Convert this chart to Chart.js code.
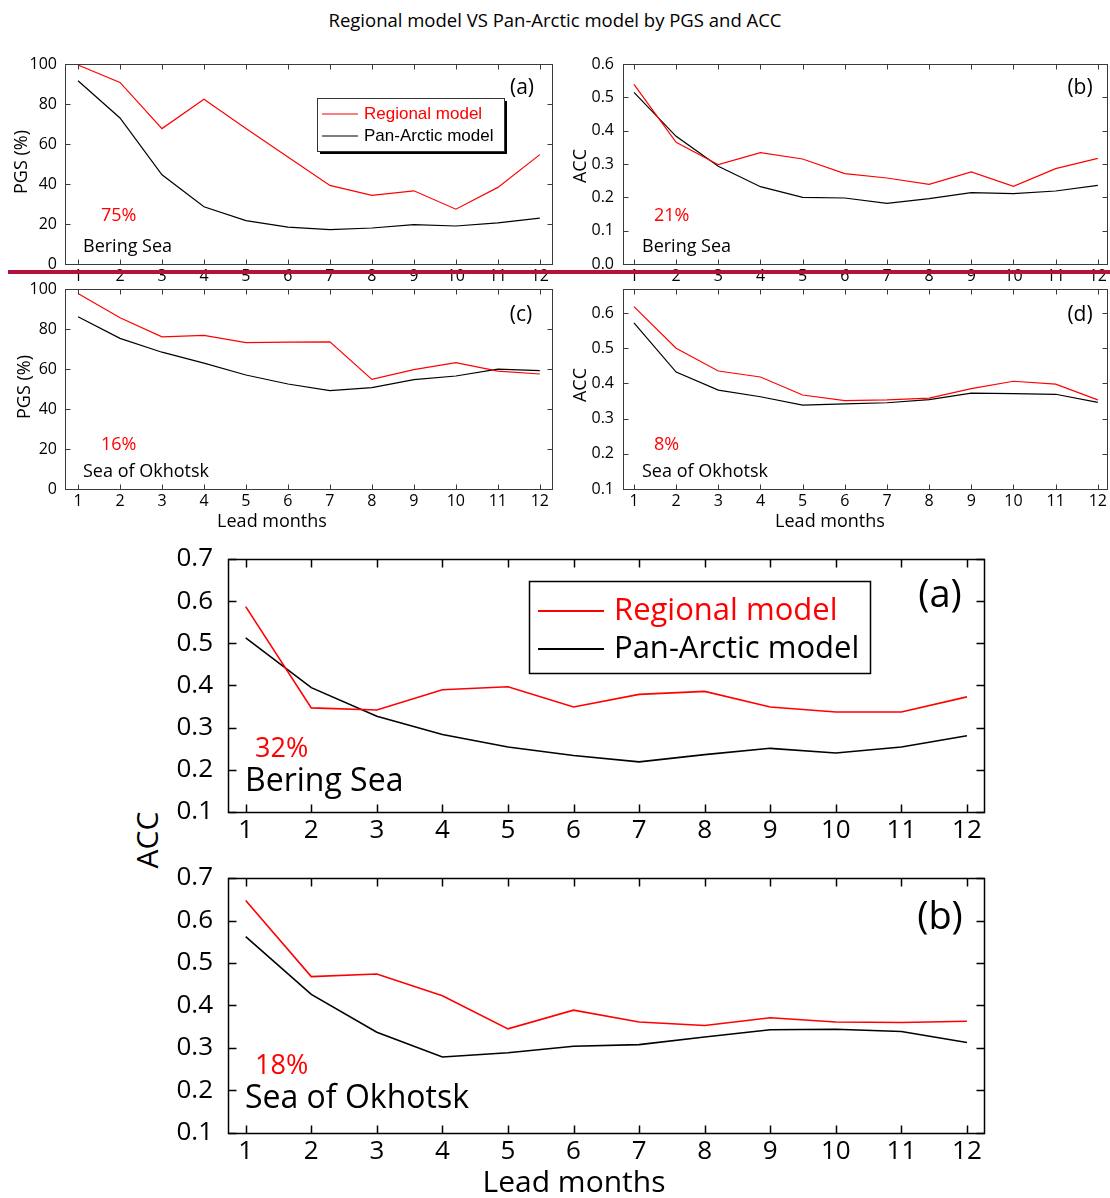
<!DOCTYPE html>
<html>
<head>
<meta charset="utf-8">
<script src="https://cdn.jsdelivr.net/npm/chart.js@4.4.1/dist/chart.umd.min.js"></script>
<style>
    body { margin: 0; background: #fff; }
    #figura { position: relative; width: 1110px; height: 1198px; overflow: hidden; background: #fff; }
    #figura canvas { position: absolute; }
    .texto-livre { position: absolute; white-space: nowrap; color: #000; font-family: 'Open Sans', sans-serif; transform: translate(-50%, -50%); }
    #separador { position: absolute; left: 8px; top: 270px; width: 1102px; height: 4px; background: #b3123c; z-index: 5; }
</style>
</head>
<body>
<div id="figura">
    <div class="texto-livre" style="left:555px; top:19px; font-size:18.5px;">Regional model VS Pan-Arctic model by PGS and ACC</div>
    <div class="texto-livre" style="left:146px; top:840px; font-size:30px; transform: translate(-50%, -50%) rotate(-90deg);">ACC</div>
    <div id="separador"></div>
</div>
<script>
const mesesAntecedencia = [1, 2, 3, 4, 5, 6, 7, 8, 9, 10, 11, 12];

const pgsBeringRegional = [99.5, 90.8, 67.7, 82.4, 67.8, 53.5, 39.3, 34.3, 36.6, 27.4, 38.3, 54.7];
const pgsBeringPan = [91.6, 73.0, 44.6, 28.6, 21.7, 18.4, 17.2, 18.0, 19.7, 19.0, 20.6, 22.9];
const accBeringRegional = [0.539, 0.365, 0.298, 0.334, 0.315, 0.271, 0.258, 0.239, 0.276, 0.233, 0.286, 0.317];
const accBeringPan = [0.515, 0.383, 0.293, 0.232, 0.200, 0.198, 0.182, 0.196, 0.214, 0.211, 0.219, 0.236];
const pgsOkhotskRegional = [97.8, 85.6, 76.1, 76.8, 73.2, 73.4, 73.6, 54.8, 59.7, 63.2, 58.9, 57.5];
const pgsOkhotskPan = [86.1, 75.3, 68.4, 62.9, 57.0, 52.5, 49.2, 50.7, 54.7, 56.5, 59.9, 59.2];
const accOkhotskRegional = [0.618, 0.500, 0.435, 0.418, 0.367, 0.351, 0.353, 0.358, 0.385, 0.406, 0.398, 0.353];
const accOkhotskPan = [0.572, 0.432, 0.381, 0.362, 0.338, 0.342, 0.345, 0.354, 0.372, 0.371, 0.369, 0.346];

// painéis maiores (parte de baixo)
const accBeringRegionalNovo = [0.587, 0.347, 0.342, 0.390, 0.397, 0.349, 0.379, 0.386, 0.349, 0.337, 0.337, 0.373];
const accBeringPanNovo = [0.513, 0.395, 0.327, 0.284, 0.254, 0.234, 0.219, 0.236, 0.251, 0.240, 0.254, 0.281];
const accOkhotskRegionalNovo = [0.647, 0.468, 0.474, 0.423, 0.345, 0.389, 0.361, 0.353, 0.371, 0.361, 0.360, 0.363];
const accOkhotskPanNovo = [0.562, 0.426, 0.337, 0.279, 0.289, 0.304, 0.308, 0.326, 0.343, 0.344, 0.339, 0.313];

const ticksPGS = [0, 20, 40, 60, 80, 100];
const ticksAccBering = [0, 0.1, 0.2, 0.3, 0.4, 0.5, 0.6];
const ticksAccOkhotsk = [0.1, 0.2, 0.3, 0.4, 0.5, 0.6];
const ticksAccNovo = [0.1, 0.2, 0.3, 0.4, 0.5, 0.6, 0.7];

const nomesSeries = ['Regional model', 'Pan-Arctic model'];
const COR_REGIONAL = '#ff0000';
const COR_PAN = '#000000';

const pluginMoldura = {
    id: 'moldura',
    afterDatasetsDraw(chart, args, opcoes) {
        const { ctx, chartArea: area, scales: { x, y } } = chart;
        const l = Math.round(area.left) + 0.5, r = Math.round(area.right) + 0.5;
        const t = Math.round(area.top) + 0.5, b = Math.round(area.bottom) + 0.5;
        ctx.save();
        ctx.strokeStyle = opcoes.cor;
        ctx.lineWidth = opcoes.espessura;
        ctx.beginPath();
        x.ticks.forEach(tick => {
            const px = Math.round(x.getPixelForValue(tick.value)) + 0.5;
            ctx.moveTo(px, b); ctx.lineTo(px, b - opcoes.marca);
            ctx.moveTo(px, t); ctx.lineTo(px, t + opcoes.marca);
        });
        y.ticks.forEach(tick => {
            const py = Math.round(y.getPixelForValue(tick.value)) + 0.5;
            ctx.moveTo(l, py); ctx.lineTo(l + opcoes.marca, py);
            ctx.moveTo(r, py); ctx.lineTo(r - opcoes.marca, py);
        });
        ctx.stroke();
        ctx.strokeRect(l, t, r - l, b - t);
        ctx.restore();
    }
};

const pluginTextos = {
    id: 'textos',
    afterDraw(chart, args, opcoes) {
        const { ctx } = chart;
        const { origem, textos = [], legenda } = opcoes;
        ctx.save();
        ctx.translate(-origem.x, -origem.y);

        if (legenda) {
            const { x, y, w, h } = legenda.caixa;
            if (legenda.sombra) {
                ctx.fillStyle = '#000';
                ctx.fillRect(x + legenda.sombra, y + legenda.sombra, w, h);
            }
            ctx.fillStyle = '#fff';
            ctx.fillRect(x, y, w, h);
            ctx.strokeStyle = legenda.corBorda;
            ctx.lineWidth = legenda.espessuraBorda;
            ctx.strokeRect(x + 0.5, y + 0.5, w, h);
            legenda.itens.forEach(item => {
                ctx.strokeStyle = item.cor;
                ctx.lineWidth = legenda.espessuraLinha;
                ctx.beginPath();
                ctx.moveTo(legenda.linhaX[0], item.y);
                ctx.lineTo(legenda.linhaX[1], item.y);
                ctx.stroke();
                ctx.fillStyle = item.cor;
                ctx.font = legenda.fonte;
                ctx.textAlign = 'left';
                ctx.textBaseline = 'middle';
                ctx.fillText(item.texto, legenda.textoX, item.y);
            });
        }

        textos.forEach(item => {
            ctx.save();
            ctx.translate(item.x, item.y);
            if (item.rotacao) ctx.rotate(item.rotacao);
            ctx.fillStyle = item.cor || '#000';
            ctx.font = item.fonte;
            ctx.textAlign = item.alinhar || 'center';
            ctx.textBaseline = 'middle';
            ctx.fillText(item.texto, 0, 0);
            ctx.restore();
        });
        ctx.restore();
    }
};

function criarPainel(cfg) {
    const canvas = document.createElement('canvas');
    canvas.width = cfg.caixa.w;
    canvas.height = cfg.caixa.h;
    canvas.style.left = cfg.caixa.x + 'px';
    canvas.style.top = cfg.caixa.y + 'px';
    document.getElementById('figura').appendChild(canvas);

    const larguraEixoY = cfg.area.l - cfg.caixa.x;
    const alturaEixoX = cfg.caixa.y + cfg.caixa.h - cfg.area.b;

    const pontos = valores => mesesAntecedencia.map((mes, i) => ({ x: mes, y: valores[i] }));

    new Chart(canvas, {
        type: 'line',
        data: {
            datasets: [
                { label: nomesSeries[0], data: pontos(cfg.regional), borderColor: COR_REGIONAL, borderWidth: cfg.espessuraLinha, pointRadius: 0, tension: 0 },
                { label: nomesSeries[1], data: pontos(cfg.pan), borderColor: COR_PAN, borderWidth: cfg.espessuraLinha, pointRadius: 0, tension: 0 }
            ]
        },
        options: {
            responsive: false,
            animation: false,
            events: [],
            layout: {
                padding: {
                    left: 0,
                    top: cfg.area.t - cfg.caixa.y,
                    right: cfg.caixa.x + cfg.caixa.w - cfg.area.r,
                    bottom: 0
                }
            },
            scales: {
                x: {
                    type: 'linear',
                    min: cfg.xMin,
                    max: cfg.xMax,
                    afterBuildTicks: escala => { escala.ticks = mesesAntecedencia.map(v => ({ value: v })); },
                    afterFit: escala => { escala.height = alturaEixoX; },
                    grid: { display: false, drawTicks: false },
                    border: { display: false },
                    ticks: { color: '#000', padding: cfg.paddingX, font: cfg.fonteTicks, maxRotation: 0, autoSkip: false }
                },
                y: {
                    min: cfg.yMin,
                    max: cfg.yMax,
                    afterBuildTicks: escala => { escala.ticks = cfg.ticksY.map(v => ({ value: v })); },
                    afterFit: escala => { escala.width = larguraEixoY; },
                    grid: { display: false, drawTicks: false },
                    border: { display: false },
                    ticks: {
                        color: '#000',
                        padding: cfg.paddingY,
                        font: cfg.fonteTicks,
                        autoSkip: false,
                        callback: valor => cfg.decimais ? Number(valor).toFixed(cfg.decimais) : String(valor)
                    }
                }
            },
            plugins: {
                legend: { display: false },
                tooltip: { enabled: false },
                moldura: { cor: cfg.corMoldura, espessura: cfg.espessuraMoldura, marca: cfg.marca },
                textos: { origem: { x: cfg.caixa.x, y: cfg.caixa.y }, textos: cfg.textos, legenda: cfg.legenda }
            }
        },
        plugins: [pluginMoldura, pluginTextos]
    });
}

const fontePequena = { family: "'Open Sans', sans-serif", size: 16 };
const fonteGrande = { family: "'Open Sans', sans-serif", size: 26 };
const F = (tamanho) => `${tamanho}px 'Open Sans', sans-serif`;
const verticalTexto = -Math.PI / 2;

const basePequeno = {
    espessuraLinha: 1.2,
    fonteTicks: fontePequena,
    paddingX: 3,
    corMoldura: '#3a3a3a',
    espessuraMoldura: 1,
    marca: 5
};

const baseGrande = {
    espessuraLinha: 1.6,
    fonteTicks: fonteGrande,
    paddingX: 3,
    paddingY: 15,
    corMoldura: '#000',
    espessuraMoldura: 1.5,
    marca: 8,
    decimais: 1,
    xMin: 0.73,
    xMax: 12.26,
    yMin: 0.1,
    yMax: 0.7,
    ticksY: ticksAccNovo
};

criarPainel({
    ...basePequeno,
    caixa: { x: 0, y: 40, w: 560, h: 250 },
    area: { l: 65, t: 64, r: 552, b: 264 },
    xMin: 0.69, xMax: 12.29, yMin: 0, yMax: 100, ticksY: ticksPGS, paddingY: 8,
    regional: pgsBeringRegional, pan: pgsBeringPan,
    textos: [
        { texto: '(a)', x: 522, y: 88, fonte: F(21) },
        { texto: '75%', x: 101, y: 216, fonte: F(18), cor: COR_REGIONAL, alinhar: 'left' },
        { texto: 'Bering Sea', x: 83, y: 247, fonte: F(18), alinhar: 'left' },
        { texto: 'PGS (%)', x: 22, y: 162, fonte: F(18), rotacao: verticalTexto }
    ],
    legenda: {
        caixa: { x: 317, y: 98, w: 187, h: 53 },
        sombra: 3,
        corBorda: '#333',
        espessuraBorda: 1,
        espessuraLinha: 1.2,
        linhaX: [322, 358],
        textoX: 364,
        fonte: "17px 'Liberation Sans', Arial, sans-serif",
        itens: [
            { texto: nomesSeries[0], cor: COR_REGIONAL, y: 114 },
            { texto: nomesSeries[1], cor: COR_PAN, y: 136 }
        ]
    }
});

criarPainel({
    ...basePequeno,
    caixa: { x: 560, y: 40, w: 550, h: 250 },
    area: { l: 623, t: 64, r: 1107, b: 264 },
    xMin: 0.74, xMax: 12.21, yMin: 0, yMax: 0.6, ticksY: ticksAccBering, paddingY: 9, decimais: 1,
    regional: accBeringRegional, pan: accBeringPan,
    textos: [
        { texto: '(b)', x: 1080, y: 88, fonte: F(21) },
        { texto: '21%', x: 654, y: 216, fonte: F(18), cor: COR_REGIONAL, alinhar: 'left' },
        { texto: 'Bering Sea', x: 642, y: 247, fonte: F(18), alinhar: 'left' },
        { texto: 'ACC', x: 581, y: 166, fonte: F(18), rotacao: verticalTexto }
    ]
});

criarPainel({
    ...basePequeno,
    caixa: { x: 0, y: 262, w: 560, h: 273 },
    area: { l: 65, t: 289, r: 552, b: 489 },
    xMin: 0.69, xMax: 12.29, yMin: 0, yMax: 100, ticksY: ticksPGS, paddingY: 8,
    regional: pgsOkhotskRegional, pan: pgsOkhotskPan,
    textos: [
        { texto: '(c)', x: 521, y: 315, fonte: F(21) },
        { texto: '16%', x: 101, y: 445, fonte: F(18), cor: COR_REGIONAL, alinhar: 'left' },
        { texto: 'Sea of Okhotsk', x: 83, y: 472, fonte: F(18), alinhar: 'left' },
        { texto: 'PGS (%)', x: 25, y: 387, fonte: F(18), rotacao: verticalTexto },
        { texto: 'Lead months', x: 272, y: 522, fonte: F(18) }
    ]
});

criarPainel({
    ...basePequeno,
    caixa: { x: 560, y: 262, w: 550, h: 273 },
    area: { l: 623, t: 289, r: 1107, b: 489 },
    xMin: 0.74, xMax: 12.21, yMin: 0.1, yMax: 0.668, ticksY: ticksAccOkhotsk, paddingY: 9, decimais: 1,
    regional: accOkhotskRegional, pan: accOkhotskPan,
    textos: [
        { texto: '(d)', x: 1080, y: 315, fonte: F(21) },
        { texto: '8%', x: 654, y: 445, fonte: F(18), cor: COR_REGIONAL, alinhar: 'left' },
        { texto: 'Sea of Okhotsk', x: 642, y: 472, fonte: F(18), alinhar: 'left' },
        { texto: 'ACC', x: 581, y: 385, fonte: F(18), rotacao: verticalTexto },
        { texto: 'Lead months', x: 830, y: 522, fonte: F(18) }
    ]
});

criarPainel({
    ...baseGrande,
    caixa: { x: 160, y: 522, w: 950, h: 328 },
    area: { l: 228, t: 559, r: 984, b: 812 },
    regional: accBeringRegionalNovo, pan: accBeringPanNovo,
    textos: [
        { texto: '(a)', x: 940, y: 596, fonte: F(38) },
        { texto: '32%', x: 255, y: 749, fonte: F(27), cor: COR_REGIONAL, alinhar: 'left' },
        { texto: 'Bering Sea', x: 245, y: 782, fonte: F(32), alinhar: 'left' }
    ],
    legenda: {
        caixa: { x: 529, y: 581, w: 341, h: 92 },
        sombra: 0,
        corBorda: '#000',
        espessuraBorda: 1.5,
        espessuraLinha: 2,
        linhaX: [538, 604],
        textoX: 614,
        fonte: F(31),
        itens: [
            { texto: nomesSeries[0], cor: COR_REGIONAL, y: 611 },
            { texto: nomesSeries[1], cor: COR_PAN, y: 649 }
        ]
    }
});

criarPainel({
    ...baseGrande,
    caixa: { x: 160, y: 840, w: 950, h: 358 },
    area: { l: 228, t: 878, r: 984, b: 1133 },
    regional: accOkhotskRegionalNovo, pan: accOkhotskPanNovo,
    textos: [
        { texto: '(b)', x: 940, y: 918, fonte: F(38) },
        { texto: '18%', x: 255, y: 1066, fonte: F(27), cor: COR_REGIONAL, alinhar: 'left' },
        { texto: 'Sea of Okhotsk', x: 245, y: 1099, fonte: F(32), alinhar: 'left' },
        { texto: 'Lead months', x: 574, y: 1183, fonte: F(30) }
    ]
});
</script>
</body>
</html>
